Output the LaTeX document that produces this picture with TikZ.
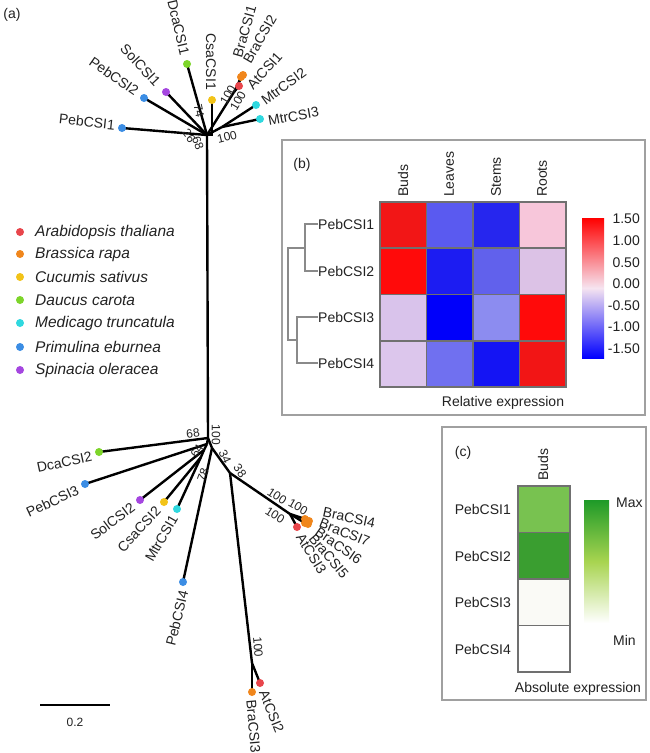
\documentclass[tikz,border=0pt]{standalone}
\usepackage{fontspec}
\setmainfont{Liberation Sans}
\definecolor{cAt}{HTML}{E8454B}
\definecolor{cBra}{HTML}{F0861C}
\definecolor{cCsa}{HTML}{F2C318}
\definecolor{cDca}{HTML}{7DD52A}
\definecolor{cMtr}{HTML}{2FD8DF}
\definecolor{cPeb}{HTML}{3B8DE4}
\definecolor{cSol}{HTML}{A546E0}
\definecolor{txt}{HTML}{222222}
\definecolor{boxgray}{HTML}{A0A0A0}
\definecolor{cellgray}{HTML}{707070}
\definecolor{dendgray}{HTML}{8A8A8A}
\definecolor{hA}{HTML}{F21616}\definecolor{hB}{HTML}{5A5AF0}\definecolor{hC}{HTML}{2626EE}\definecolor{hD}{HTML}{F7C6DA}
\definecolor{hE}{HTML}{FF0A0A}\definecolor{hF}{HTML}{1C1CF2}\definecolor{hG}{HTML}{6161EC}\definecolor{hH}{HTML}{DCC2E6}
\definecolor{hI}{HTML}{D9C3EB}\definecolor{hJ}{HTML}{0000FA}\definecolor{hK}{HTML}{8C8CF0}\definecolor{hL}{HTML}{FF0A0A}
\definecolor{hM}{HTML}{DCC6EC}\definecolor{hN}{HTML}{7070F0}\definecolor{hO}{HTML}{1414F4}\definecolor{hP}{HTML}{F21515}
\definecolor{gA}{HTML}{78C250}\definecolor{gB}{HTML}{3A9E30}\definecolor{gC}{HTML}{FAFAF6}\definecolor{gD}{HTML}{FFFFFF}
\definecolor{gTop}{HTML}{1E9A28}\definecolor{gMid}{HTML}{A8D450}
\tikzset{
  tipdot/.style={circle,fill=#1,inner sep=0pt,minimum size=8pt},
  treeedge/.style={line width=2.4pt,black},
  tiplab/.style={font=\fontsize{14}{14}\selectfont,text=txt,inner sep=1pt},
  bslab/.style={font=\fontsize{12}{12}\selectfont,text=txt,inner sep=0pt},
  legtext/.style={font=\fontsize{15.5}{16}\selectfont\itshape,text=txt,anchor=west,inner sep=0pt},
  legdot/.style={circle,fill=#1,inner sep=0pt,minimum size=8pt},
  plain/.style={font=\fontsize{14}{14}\selectfont,text=txt,inner sep=0pt},
  panelbox/.style={draw=boxgray,line width=1.2pt},
  cellbox/.style={draw=cellgray,line width=1.6pt},
  dend/.style={draw=dendgray,line width=1.1pt}
}
\begin{document}
\begin{tikzpicture}[x=1pt,y=-1pt]
\useasboundingbox[fill=white] (0,0) rectangle (650,753);

% ---------- panel (a): tree ----------
\node[plain] (la) at (12,15) {(a)};
\coordinate (h1) at (207,135);
\coordinate (h2) at (208,438);
\coordinate (iBA) at (234,92);
\coordinate (iBB) at (239,82);
\coordinate (iM) at (222,127);
\coordinate (n1) at (207,444);
\coordinate (n2) at (204,450);
\coordinate (n3) at (201,457);
\coordinate (n4) at (212,448);
\coordinate (nA) at (230,473);
\coordinate (nB) at (290,514);
\coordinate (nC) at (252,663);

% edges (drawn before dots)
\path (122,128) coordinate (pPebA) (144,98) coordinate (pPebB) (166,92) coordinate (pSolA)
      (187,64) coordinate (pDcaA) (212,100) coordinate (pCsaA) (239,86) coordinate (pAtA)
      (241,77) coordinate (pBraA) (243,75) coordinate (pBraB) (256,105) coordinate (pMtrB)
      (260,119) coordinate (pMtrC)
      (99,452) coordinate (pDcaB) (85,484) coordinate (pPebC) (140,500) coordinate (pSolB)
      (164,502) coordinate (pCsaB) (177,509) coordinate (pMtrA) (183,582) coordinate (pPebD)
      (297,527) coordinate (pAtC) (305,519) coordinate (pBraD) (309,521) coordinate (pBraG)
      (308,524) coordinate (pBraF) (305,523) coordinate (pBraE)
      (260,683) coordinate (pAtB) (252,692) coordinate (pBraC);

\draw[treeedge] (h1) -- (pPebA);
\draw[treeedge] (h1) -- (pPebB);
\draw[treeedge] (h1) -- (pSolA);
\draw[treeedge] (h1) -- (pDcaA);
\draw[treeedge] (h1) -- (pCsaA |- h1) -- (pCsaA);
\draw[treeedge] (h1) -- (iBA);
\draw[treeedge] (iBA) -- (pAtA);
\draw[treeedge] (iBA) -- (iBB);
\draw[treeedge] (iBB) -- (pBraA);
\draw[treeedge] (iBB) -- (pBraB);
\draw[treeedge] (h1) -- (iM);
\draw[treeedge] (iM) -- (pMtrB);
\draw[treeedge] (iM) -- (pMtrC);
\draw[treeedge] (h1) -- (h2);
\draw[treeedge] (h2) -- (pDcaB);
\draw[treeedge] (h2) -- (n1);
\draw[treeedge] (n1) -- (pPebC);
\draw[treeedge] (n1) -- (n2);
\draw[treeedge] (n2) -- (pSolB);
\draw[treeedge] (n2) -- (n3);
\draw[treeedge] (n3) -- (pCsaB);
\draw[treeedge] (n3) -- (pMtrA);
\draw[treeedge] (h2) -- (n4);
\draw[treeedge] (n4) -- (pPebD);
\draw[treeedge] (n4) -- (nA);
\draw[treeedge] (nA) -- (nB);
\draw[treeedge] (nB) -- (pAtC);
\draw[treeedge] (nB) -- (pBraD);
\draw[treeedge] (nB) -- (pBraE);
\draw[treeedge] (nA) -- (nC);
\draw[treeedge] (nC) -- (pAtB);
\draw[treeedge] (nC) -- (pBraC);

% tip dots
\node[tipdot=cPeb] (tPebA) at (pPebA) {};
\node[tipdot=cPeb] (tPebB) at (pPebB) {};
\node[tipdot=cSol] (tSolA) at (pSolA) {};
\node[tipdot=cDca] (tDcaA) at (pDcaA) {};
\node[tipdot=cCsa] (tCsaA) at (pCsaA) {};
\node[tipdot=cBra] (tBraB) at (pBraB) {};
\node[tipdot=cBra] (tBraA) at (pBraA) {};
\node[tipdot=cAt]  (tAtA)  at (pAtA) {};
\node[tipdot=cMtr] (tMtrB) at (pMtrB) {};
\node[tipdot=cMtr] (tMtrC) at (pMtrC) {};
\node[tipdot=cDca] (tDcaB) at (pDcaB) {};
\node[tipdot=cPeb] (tPebC) at (pPebC) {};
\node[tipdot=cSol] (tSolB) at (pSolB) {};
\node[tipdot=cCsa] (tCsaB) at (pCsaB) {};
\node[tipdot=cMtr] (tMtrA) at (pMtrA) {};
\node[tipdot=cPeb] (tPebD) at (pPebD) {};
\node[tipdot=cBra] (tBraE) at (pBraE) {};
\node[tipdot=cBra] (tBraF) at (pBraF) {};
\node[tipdot=cBra] (tBraG) at (pBraG) {};
\node[tipdot=cBra] (tBraD) at (pBraD) {};
\node[tipdot=cAt]  (tAtC)  at (pAtC) {};
\node[tipdot=cAt]  (tAtB)  at (pAtB) {};
\node[tipdot=cBra] (tBraC) at (pBraC) {};

% tip labels
\node[tiplab,anchor=east,rotate=-6]  (lPebA) at (116,125) {PebCSI1};
\node[tiplab,anchor=east,rotate=-35] (lPebB) at (138,93) {PebCSI2};
\node[tiplab,anchor=east,rotate=-47] (lSolA) at (159,85) {SolCSI1};
\node[tiplab,anchor=east,rotate=-77] (lDcaA) at (185,56) {DcaCSI1};
\node[tiplab,anchor=east,rotate=-90] (lCsaA) at (211,91) {CsaCSI1};
\node[tiplab,anchor=west,rotate=74]  (lBraA) at (237,58) {BraCSI1};
\node[tiplab,anchor=west,rotate=60]  (lBraB) at (246,63) {BraCSI2};
\node[tiplab,anchor=west,rotate=48]  (lAtA)  at (249,88) {AtCSI1};
\node[tiplab,anchor=west,rotate=36]  (lMtrB) at (262,102) {MtrCSI2};
\node[tiplab,anchor=west,rotate=10]  (lMtrC) at (267,121) {MtrCSI3};
\node[tiplab,anchor=east,rotate=12]  (lDcaB) at (93,456) {DcaCSI2};
\node[tiplab,anchor=east,rotate=25]  (lPebC) at (79,489) {PebCSI3};
\node[tiplab,anchor=east,rotate=37]  (lSolB) at (134,505) {SolCSI2};
\node[tiplab,anchor=east,rotate=47]  (lCsaB) at (159,508) {CsaCSI2};
\node[tiplab,anchor=east,rotate=60]  (lMtrA) at (175,515) {MtrCSI1};
\node[tiplab,anchor=east,rotate=76]  (lPebD) at (184,590) {PebCSI4};
\node[tiplab,anchor=west,rotate=-68] (lAtB)  at (263,690) {AtCSI2};
\node[tiplab,anchor=west,rotate=-85] (lBraC) at (251,699) {BraCSI3};
\node[tiplab,anchor=west,rotate=-12] (lBraD) at (322,512) {BraCSI4};
\node[tiplab,anchor=west,rotate=-22] (lBraG) at (319,522) {BraCSI7};
\node[tiplab,anchor=west,rotate=-35] (lBraF) at (316,530) {BraCSI6};
\node[tiplab,anchor=west,rotate=-50] (lBraE) at (311,535) {BraCSI5};
\node[tiplab,anchor=west,rotate=-58] (lAtC)  at (299,534) {AtCSI3};

% bootstrap values
\node[bslab,rotate=-78] (b1) at (199,111) {74};
\node[bslab,rotate=60]  (b2) at (228,95) {100};
\node[bslab,rotate=60]  (b3) at (238,101) {100};
\node[bslab,rotate=14]  (b4) at (227,137) {100};
\node[bslab,rotate=-55] (b5) at (189,136) {26};
\node[bslab,rotate=-70] (b6) at (198,143) {68};
\node[bslab,rotate=8]   (b7) at (193,433) {68};
\node[bslab,rotate=-90] (b8) at (216,435) {100};
\node[bslab,rotate=60]  (b9) at (197,451) {64};
\node[bslab,rotate=70]  (b10) at (203,475) {78};
\node[bslab,rotate=-65] (b11) at (225,457) {34};
\node[bslab,rotate=-55] (b12) at (240,471) {38};
\node[bslab,rotate=-33] (b13) at (277,496) {100};
\node[bslab,rotate=-33] (b14) at (275,515) {100};
\node[bslab,rotate=-30] (b15) at (298,507) {100};
\node[bslab,rotate=-85] (b16) at (258,647) {100};

% scale bar
\coordinate (sbL) at (40,705);
\coordinate (sbR) at (110,705);
\draw[line width=1.6pt] (sbL) -- (sbR);
\node[bslab] (sbT) at (75,722) {0.2};

% legend
\foreach \yy/\cc/\nm [count=\k] in {232/cAt/Arabidopsis thaliana,254/cBra/Brassica rapa,277/cCsa/Cucumis sativus,300/cDca/Daucus carota,323/cMtr/Medicago truncatula,347/cPeb/Primulina eburnea,370/cSol/Spinacia oleracea}{
  \node[legdot=\cc] (ld\k) at (20,\yy) {};
  \node[legtext] (lt\k) at (35,\yy) {\nm};
}

% ---------- panel (b) ----------
\draw[panelbox] (282,140) rectangle (645,415);
\node[plain] (lb) at (302,165) {(b)};
\foreach \r/\ca/\cb/\cc/\cd in {0/hA/hB/hC/hD,1/hE/hF/hG/hH,2/hI/hJ/hK/hL,3/hM/hN/hO/hP}{
  \foreach \cl/\q in {0/\ca,1/\cb,2/\cc,3/\cd}{
    \fill[\q] ({380+46.5*\cl},{202+46.25*\r}) rectangle ++(46.5,46.25);
  }
}
\foreach \i in {0,...,3}{
  \foreach \j in {0,...,3}{
    \draw[cellbox] ({380+46.5*\i},{202+46.25*\j}) rectangle ++(46.5,46.25);
  }
}
\foreach \xx/\nm [count=\k] in {403/Buds,449/Leaves,496/Stems,542/Roots}{
  \node[plain,rotate=90,anchor=west] (cb\k) at (\xx,197) {\nm};
}
\foreach \yy/\nm [count=\k] in {224/PebCSI1,271/PebCSI2,317/PebCSI3,363/PebCSI4}{
  \node[plain,anchor=west] (rb\k) at (318,\yy) {\nm};
}
\draw[dend] (318,224) -- (305,224) -- (305,271) -- (318,271);
\draw[dend] (318,317) -- (297,317) -- (297,363) -- (318,363);
\draw[dend] (305,248) -- (288,248) -- (288,340) -- (297,340);
\shade[top color=red, bottom color=blue, middle color={rgb,255:red,246;green,228;blue,240}] (582,218) rectangle (604,358);
\foreach \yy/\vv [count=\k] in {219/1.50,241/1.00,263/0.50,284/0.00,306/-0.50,327/-1.00,349/-1.50}{
  \node[plain,anchor=east] (kb\k) at (640,\yy) {\vv};
}
\node[plain] (relx) at (503,403) {Relative expression};

% ---------- panel (c) ----------
\draw[panelbox] (442,427) rectangle (646,700);
\node[plain] (lc) at (463,453) {(c)};
\foreach \q [count=\r from 0] in {gA,gB,gC,gD}{
  \fill[\q] (518,{486+46.5*\r}) rectangle ++(52,46.5);
  \draw[cellbox] (518,{486+46.5*\r}) rectangle ++(52,46.5);
}
\node[plain,rotate=90,anchor=west] (cc1) at (543,481) {Buds};
\foreach \yy/\nm [count=\k] in {509/PebCSI1,556/PebCSI2,602/PebCSI3,649/PebCSI4}{
  \node[plain,anchor=east] (rc\k) at (511,\yy) {\nm};
}
\shade[top color=gTop, bottom color=white, middle color=gMid] (584,500) rectangle (609,623);
\node[plain,anchor=west] (kmax) at (616,503) {Max};
\node[plain,anchor=west] (kmin) at (613,640) {Min};
\node[plain] (absx) at (578,689) {Absolute expression};
\end{tikzpicture}
\end{document}
